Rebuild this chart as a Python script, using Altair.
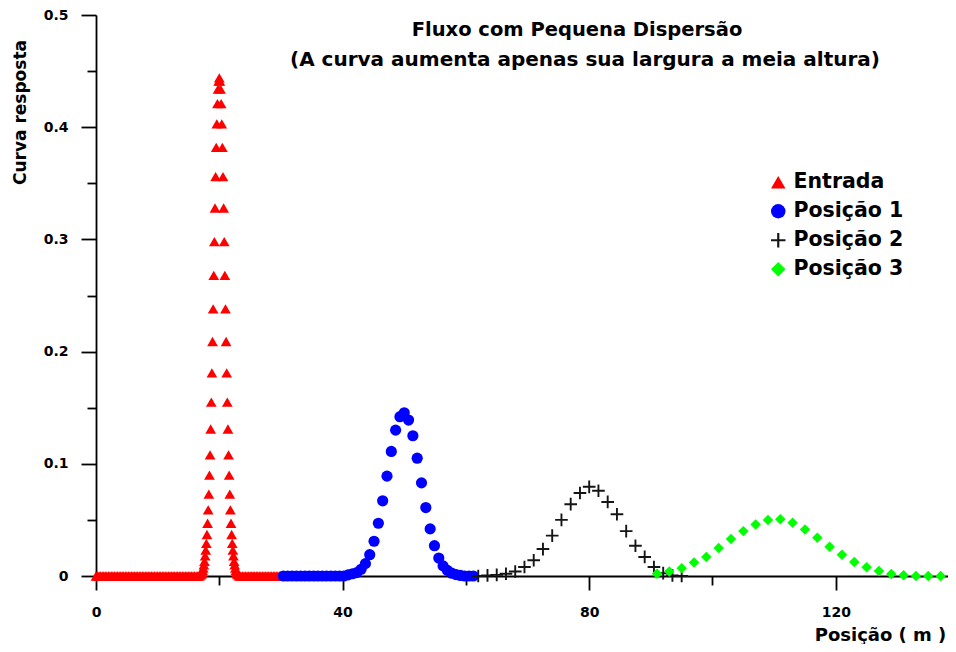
import altair as alt
import pandas as pd

# ---------------- data ----------------
series_names = ["Entrada", "Posição 1", "Posição 2", "Posição 3"]
series_colors = ["#ff0000", "#0000ff", "#151515", "#00ff00"]
cross_path = "M-1,-0.15H-0.15V-1H0.15V-0.15H1V0.15H0.15V1H-0.15V0.15H-1Z"
series_shapes = ["triangle-up", "circle", cross_path, "diamond"]
marker_sizes = [115, 125, 160, 110]

title_lines = ["Fluxo com Pequena Dispersão",
               "(A curva aumenta apenas sua largura a meia altura)"]

# Entrada (red triangles)
red_tail_left_x = [0.0, 0.25, 0.5, 0.75, 1.0, 1.25, 1.5, 1.75, 2.0, 2.25, 2.5, 2.75,
                   3.0, 3.25, 3.5, 3.75, 4.0, 4.25, 4.5, 4.75, 5.0, 5.25, 5.5, 5.75,
                   6.0, 6.25, 6.5, 6.75, 7.0, 7.25, 7.5, 7.75, 8.0, 8.25, 8.5, 8.75,
                   9.0, 9.25, 9.5, 9.75, 10.0, 10.25, 10.5, 10.75, 11.0, 11.25, 11.5, 11.75,
                   12.0, 12.25, 12.5, 12.75, 13.0, 13.25, 13.5, 13.75, 14.0, 14.25, 14.5, 14.75,
                   15.0, 15.25, 15.5, 15.75, 16.0, 16.25, 16.5, 16.75]
red_tail_left_y = [0.0, 0.0, 0.0, 0.0, 0.0, 0.0, 0.0, 0.0, 0.0, 0.0, 0.0, 0.0,
                   0.0, 0.0, 0.0, 0.0, 0.0, 0.0, 0.0, 0.0, 0.0, 0.0, 0.0, 0.0,
                   0.0, 0.0, 0.0, 0.0, 0.0, 0.0, 0.0, 0.0, 0.0, 0.0, 0.0, 0.0,
                   0.0, 0.0, 0.0, 0.0, 0.0, 0.0, 0.0, 0.0, 0.0, 0.0, 0.0, 0.0,
                   0.0, 0.0, 0.0, 0.0, 0.0, 0.0, 0.0, 0.0, 0.0, 0.0, 0.0, 0.0,
                   0.0, 0.0, 0.0, 0.0, 0.0, 0.0, 0.0, 0.0]
red_peak_x = [17.0, 17.1, 17.2, 17.3, 17.4, 17.5, 17.6, 17.7, 17.8, 17.9,
              18.0, 18.1, 18.2, 18.3, 18.4, 18.5, 18.6, 18.7, 18.8, 18.9,
              19.0, 19.1, 19.2, 19.3, 19.4, 19.5, 19.6, 19.7, 19.8, 19.9,
              20.0,
              20.1, 20.2, 20.3, 20.4, 20.5, 20.6, 20.7, 20.8, 20.9, 21.0,
              21.1, 21.2, 21.3, 21.4, 21.5, 21.6, 21.7, 21.8, 21.9, 22.0,
              22.1, 22.2, 22.3, 22.4, 22.5, 22.6, 22.7, 22.8, 22.9, 23.0]
red_peak_y = [0.001, 0.002, 0.003, 0.005, 0.007, 0.010, 0.013, 0.018, 0.023, 0.029,
              0.037, 0.047, 0.059, 0.073, 0.090, 0.108, 0.131, 0.155, 0.181, 0.209,
              0.238, 0.268, 0.298, 0.328, 0.356, 0.382, 0.403, 0.421, 0.434, 0.441,
              0.444,
              0.441, 0.434, 0.421, 0.403, 0.382, 0.356, 0.328, 0.298, 0.268, 0.238,
              0.209, 0.181, 0.155, 0.131, 0.108, 0.090, 0.073, 0.059, 0.047, 0.037,
              0.029, 0.023, 0.018, 0.013, 0.010, 0.007, 0.005, 0.003, 0.002, 0.001]
red_tail_right_x = [23.25, 23.5, 23.75, 24.0, 24.25, 24.5, 24.75, 25.0, 25.25, 25.5,
                    25.75, 26.0, 26.25, 26.5, 26.75, 27.0, 27.25, 27.5, 27.75, 28.0,
                    28.25, 28.5, 28.75, 29.0, 29.25, 29.5, 29.75, 30.0]
red_tail_right_y = [0.0, 0.0, 0.0, 0.0, 0.0, 0.0, 0.0, 0.0, 0.0, 0.0,
                    0.0, 0.0, 0.0, 0.0, 0.0, 0.0, 0.0, 0.0, 0.0, 0.0,
                    0.0, 0.0, 0.0, 0.0, 0.0, 0.0, 0.0, 0.0]

# Posição 1 (blue circles)
blue_x = [30.4, 31.1, 31.8, 32.5, 33.2, 33.9, 34.6, 35.3, 36.0, 36.7, 37.4, 38.1,
          38.8, 39.5, 40.2, 40.9, 41.6, 42.3, 43.0, 43.7, 44.4, 45.1, 45.8, 46.5,
          47.2, 47.9, 48.6, 49.3, 50.0, 50.7, 51.4, 52.1, 52.8, 53.5, 54.2, 54.9,
          55.6, 56.3, 57.0, 57.7, 58.4, 59.1, 59.8, 60.5, 61.2]
blue_y = [0.0, 0.0, 0.0, 0.0, 0.0, 0.0, 0.0, 0.0, 0.0, 0.0, 0.0, 0.0,
          0.0, 0.0, 0.0, 0.001, 0.002, 0.003, 0.006, 0.011, 0.019, 0.031, 0.047, 0.067,
          0.089, 0.111, 0.130, 0.142, 0.1455, 0.139, 0.125, 0.105, 0.083, 0.061, 0.042, 0.027,
          0.016, 0.009, 0.005, 0.0025, 0.0012, 0.0005, 0.0, 0.0, 0.0]

# Posição 2 (black crosses)
black_x = [62.0, 63.5, 65.0, 66.5, 68.0, 69.5, 71.0, 72.5, 74.0, 75.5, 77.0, 78.5,
           80.0, 81.5, 83.0, 84.5, 86.0, 87.5, 89.0, 90.5, 92.0, 93.5, 95.0]
black_y = [0.0, 0.0005, 0.001, 0.002, 0.004, 0.008, 0.014, 0.024, 0.036, 0.050, 0.064, 0.074,
           0.0795, 0.076, 0.066, 0.055, 0.040, 0.027, 0.017, 0.008, 0.0025, 0.0005, 0.0]

# Posição 3 (green diamonds)
green_x = [91, 93, 95, 97, 99, 101, 103, 105, 107, 109, 111, 113,
           115, 117, 119, 121, 123, 125, 127, 129, 131, 133, 135, 137]
green_y = [0.002, 0.004, 0.007, 0.012, 0.017, 0.025, 0.033, 0.040, 0.046, 0.050, 0.0505, 0.0475,
           0.0415, 0.034, 0.026, 0.019, 0.0125, 0.0077, 0.0045, 0.0018, 0.0006, 0.0, 0.0, 0.0]

x_tick_values = [0, 20, 40, 60, 80, 100, 120]
y_tick_values = [0, 0.05, 0.1, 0.15, 0.2, 0.25, 0.3, 0.35, 0.4, 0.45, 0.5]

# ---------------- chart ----------------
FONT = "DejaVu Sans"

x_axis = alt.Axis(
    values=x_tick_values,
    labelExpr="datum.value % 40 == 0 ? datum.label : ''",
    tickSize={"condition": {"test": "datum.value % 40 == 0", "value": 14}, "value": 9},
    tickWidth=1.8, tickColor="black", domainColor="black", domainWidth=1.8,
    labelFont=FONT, labelFontWeight="bold", labelFontSize=14, labelColor="black",
    labelPadding=15, labelFlush=False, labelOverlap=False, grid=False,
    title="Posição ( m )", titleFont=FONT, titleFontWeight="bold", titleFontSize=18,
    titleColor="black", titleX=784, titleY=59, titleAlign="center", titleBaseline="middle",
)
y_axis = alt.Axis(
    values=y_tick_values,
    labelExpr="round(datum.value * 100) % 10 == 0 ? format(datum.value, '~g') : ''",
    tickSize={"condition": {"test": "round(datum.value * 100) % 10 == 0", "value": 15}, "value": 9},
    tickWidth=1.8, tickColor="black", domainColor="black", domainWidth=1.8,
    labelFont=FONT, labelFontWeight="bold", labelFontSize=14, labelColor="black",
    labelPadding=13, labelOverlap=False, grid=False,
    title="Curva resposta", titleFont=FONT, titleFontWeight="bold", titleFontSize=17,
    titleColor="black", titleX=-76, titleY=97, titleAngle=270,
    titleAlign="center", titleBaseline="middle",
)

x_enc = alt.X("x:Q", scale=alt.Scale(domain=[0, 138.2], nice=False, zero=False), axis=x_axis)
y_enc = alt.Y("y:Q", scale=alt.Scale(domain=[0, 0.5], nice=False), axis=y_axis)

legend = alt.Legend(
    title=None, orient="none", legendX=672, legendY=157,
    labelFont=FONT, labelFontWeight="bold", labelFontSize=20.5, labelColor="black",
    symbolSize=210, symbolStrokeWidth=0, rowPadding=8, labelOffset=5, padding=0,
)
color_enc = alt.Color("series:N", scale=alt.Scale(domain=series_names, range=series_colors),
                      legend=legend)
shape_enc = alt.Shape("series:N", scale=alt.Scale(domain=series_names, range=series_shapes),
                      legend=legend)


def series_layer(i, xs, ys):
    df = pd.DataFrame({"x": xs, "y": ys})
    df["series"] = series_names[i]
    return alt.Chart(df).mark_point(
        filled=True, opacity=1, size=marker_sizes[i], strokeWidth=0
    ).encode(x=x_enc, y=y_enc, color=color_enc, shape=shape_enc)


red_layer = series_layer(0, red_tail_left_x + red_peak_x + red_tail_right_x,
                         red_tail_left_y + red_peak_y + red_tail_right_y)
blue_layer = series_layer(1, blue_x, blue_y)
black_layer = series_layer(2, black_x, black_y)
green_layer = series_layer(3, green_x, green_y)


def title_layer(text, px, py, size):
    return alt.Chart(pd.DataFrame({"t": [text]})).mark_text(
        font=FONT, fontWeight="bold", fontSize=size, color="black",
        align="center", baseline="middle"
    ).encode(text="t:N", x=alt.value(px), y=alt.value(py))


chart = alt.layer(
    red_layer, blue_layer, black_layer, green_layer,
    title_layer(title_lines[0], 481, 15, 19.5),
    title_layer(title_lines[1], 489, 45, 20),
).properties(
    width=852, height=561,
    autosize=alt.AutoSizeParams(type="none"),
    padding={"left": 88, "top": 7, "right": 0, "bottom": 68},
).configure_view(stroke=None)

chart.save("out.html", embed_options={"renderer": "svg", "actions": False})
